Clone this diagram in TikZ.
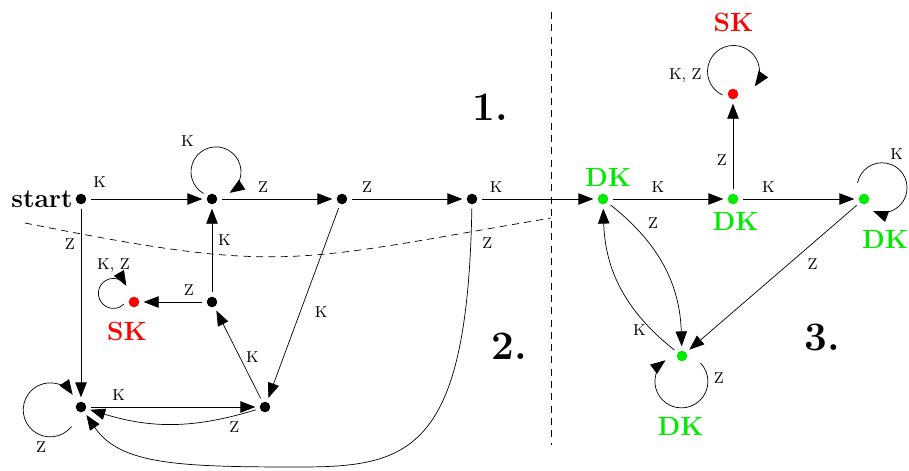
\documentclass[tikz,border=0pt]{standalone}
\usetikzlibrary{arrows.meta}
\definecolor{dkgreen}{RGB}{0,235,0}

\begin{document}
\begin{tikzpicture}[font=\small, >={Triangle[length=8.5pt,width=6.5pt]},
  dot/.style={circle, fill=black, inner sep=0pt, minimum size=6pt, outer sep=2.5pt},
  skdot/.style={dot, fill=red},
  dkdot/.style={dot, fill=dkgreen},
  sktext/.style={text=red, font=\fontsize{15}{18}\selectfont\bfseries},
  dktext/.style={text=dkgreen, font=\fontsize{15}{18}\selectfont\bfseries},
  part/.style={font=\fontsize{23}{28}\selectfont\bfseries},
  split/.style={dash pattern=on 4pt off 3pt}]
  \useasboundingbox (0,0) rectangle (18.18,9.4);

  \node[dot] (start) at (1.62,5.42) {};
  \node[dot] (kloop) at (4.24,5.42) {};
  \node[dot] (z1) at (6.84,5.42) {};
  \node[dot] (z2) at (9.44,5.42) {};
  \node[dot] (mid) at (4.24,3.36) {};
  \node[skdot] (skl) at (2.68,3.36) {};
  \node[dot] (bl) at (1.62,1.26) {};
  \node[dot] (br) at (5.30,1.26) {};
  \node[dkdot] (dk1) at (12.06,5.42) {};
  \node[dkdot] (dk2) at (14.66,5.42) {};
  \node[skdot] (skr) at (14.66,7.52) {};
  \node[dkdot] (dk3) at (17.28,5.42) {};
  \node[dkdot] (dk4) at (13.64,2.28) {};
  \coordinate (low) at (6.0,0.06);

  \node[anchor=east, inner sep=0pt, font=\fontsize{15}{18}\selectfont\bfseries] (startlbl) at (1.46,5.42) {start};
  \node[sktext] (skllbl) at (2.54,2.77) {SK};
  \node[sktext] (skrlbl) at (14.67,8.95) {SK};
  \node[dktext] (dk1lbl) at (12.16,5.85) {DK};
  \node[dktext] (dk2lbl) at (14.71,4.97) {DK};
  \node[dktext] (dk3lbl) at (17.70,4.62) {DK};
  \node[dktext] (dk4lbl) at (13.61,0.88) {DK};
  \node[part] (p1) at (9.80,7.26) {1.};
  \node[part] (p2) at (10.18,2.48) {2.};
  \node[part] (p3) at (16.45,2.65) {3.};

  \draw[split] (11.02,9.16) -- (11.02,0.5);
  \draw[split] (0.5,4.94) .. controls (5.7,3.9) and (5.82,4.16) .. (11.02,5.04);

  \draw[->] (start) -- (kloop) node[pos=0.08, above=3pt] {K};
  \draw[->] (start) -- (bl) node[pos=0.19, left] {Z};
  \draw[->] (kloop) -- (z1) node[pos=0.375, above] {Z};
  \draw[->] (z1) -- (z2) node[pos=0.14, above] {Z};
  \draw[->] (z2) -- (dk1) node[pos=0.13, above] {K};
  \draw[->] (mid) -- (kloop) node[pos=0.62, right] {K};
  \draw[->] (mid) -- (skl) node[pos=0.23, above] {Z};
  \draw[->] (z1) -- (br) node[pos=0.55, right=5pt] {K};
  \draw[->] (br) -- (mid) node[pos=0.47, right] {K};
  \draw[->] (bl) -- (br) node[pos=0.17, above] {K};
  \draw[->] (br) to[bend left=17] node[pos=0.12, below] {Z} (bl);
  \draw[->] (z2) to[out=-91, in=0, out looseness=2, in looseness=0.9] node[pos=0.05, right=3pt] {Z} (low)
    to[out=180, in=-56, out looseness=1.4, in looseness=0.7] (bl);

  \draw[->] (kloop) ++(-0.17,0.11) arc[start angle=240, end angle=-57, radius=0.5] node[pos=0.37, above left] {K};
  \draw[->] (skl) ++(-0.2,-0.04) arc[start angle=315, end angle=30, radius=0.3] node[pos=0.79, above] {K, Z};
  \draw[->] (bl) ++(-0.19,-0.39) arc[start angle=322, end angle=34, radius=0.54] node[pos=0.25, below] {Z};

  \draw[->] (dk1) -- (dk2) node[pos=0.41, above] {K};
  \draw[->] (dk2) -- (dk3) node[pos=0.23, above] {K};
  \draw[->] (dk2) -- (skr) node[pos=0.34, left] {Z};
  \draw[->] (dk1) to[bend left=25] node[pos=0.25, above right] {Z} (dk4);
  \draw[->] (dk4) to[bend left=25] node[pos=0.17, left] {K} (dk1);
  \draw[->] (dk3) -- (dk4) node[pos=0.33, below right] {Z};

  \draw[->] (skr) ++(-0.21,-0.02) arc[start angle=245, end angle=-35, radius=0.52] node[pos=0.2, left] {K, Z};
  \draw[->] (dk3) ++(-0.13,0.32) arc[start angle=169, end angle=-111, radius=0.5] node[pos=0.41, above=1pt] {K};
  \draw[->] (dk4) ++(0.37,-0.14) arc[start angle=44, end angle=-233, radius=0.53] node[pos=0.13, right] {Z};
\end{tikzpicture}
\end{document}
